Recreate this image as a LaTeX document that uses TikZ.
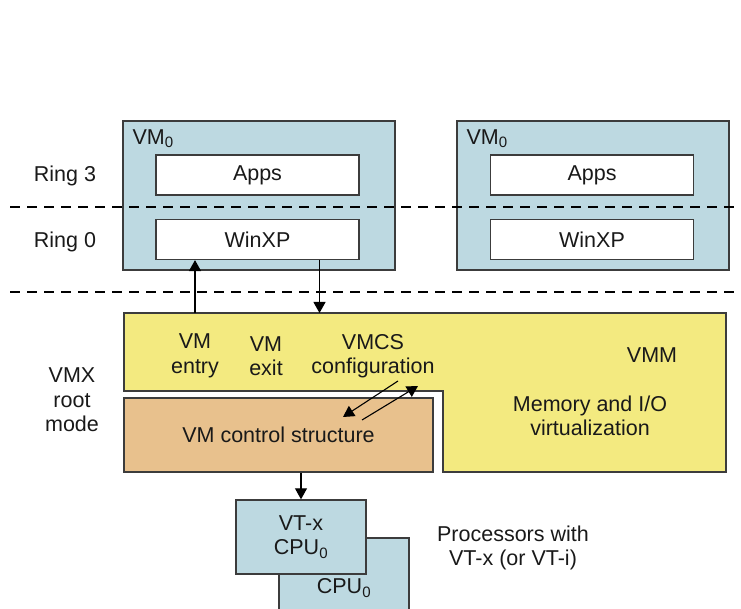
\documentclass[tikz,border=0pt]{standalone}
\usepackage{xcolor}
\usepackage{fontspec}
\setmainfont{Liberation Sans}
\usetikzlibrary{shapes,arrows.meta,positioning,calc}
\definecolor{vmblue}{RGB}{189,217,225}
\definecolor{vmmyellow}{RGB}{243,234,128}
\definecolor{ctltan}{RGB}{232,193,141}
\definecolor{boxline}{RGB}{60,60,60}
\definecolor{inktext}{RGB}{25,25,25}
\tikzstyle{vmbox} = [rectangle, minimum width=272, minimum height=149, draw=boxline, line width=1.4pt, fill=vmblue]
\tikzstyle{layer} = [rectangle, minimum width=203, minimum height=40, text centered, draw=boxline, line width=1.4pt, fill=white]
\tikzstyle{ctlbox} = [rectangle, minimum width=309, minimum height=74, text centered, draw=boxline, line width=1.4pt, fill=ctltan]
\tikzstyle{cpubox} = [rectangle, minimum width=130, minimum height=74, text centered, draw=boxline, line width=1.4pt, fill=vmblue]
\tikzstyle{vmmshape} = [draw=boxline, line width=1.4pt, fill=vmmyellow]
\tikzstyle{txt} = [align=center, inner sep=0pt]
\tikzstyle{ringline} = [line width=2.2pt, dash pattern=on 10pt off 7pt]
\tikzstyle{arrow} = [->, >={Triangle[length=11pt,width=12pt]}, line width=1.1pt]

\begin{document}
\begin{tikzpicture}[x=1pt, y=-1pt, font=\fontsize{21.5}{24.5}\selectfont, text=inktext]
	\useasboundingbox (0,0) rectangle (741,609);
	% guest side
	\node (vm1) [vmbox] at (259,195.5) {};
	\node (vm1name) [anchor=base west, inner sep=0pt] at ($(vm1.north west)+(10,24)$) {VM\textsubscript{0}};
	\node (apps1) [layer] at (257.5,175) {Apps};
	\node (winxp1) [layer, below=23pt of apps1] {WinXP};
	\node (vm2) [vmbox] at (593,195.5) {};
	\node (vm2name) [anchor=base west, inner sep=0pt] at ($(vm2.north west)+(10,24)$) {VM\textsubscript{0}};
	\node (apps2) [layer] at (592,175) {Apps};
	\node (winxp2) [layer, below=23pt of apps2] {WinXP};
	\node (ring3) [txt] at (65,176) {Ring 3};
	\node (ring0) [txt] at (65,242) {Ring 0};
	\node (vmx) [txt] at (72,400) {VMX\\root\\mode};
	\coordinate (r3l) at (10,207);
	\coordinate (r3r) at (741,207);
	\coordinate (r0l) at (10,292);
	\coordinate (r0r) at (741,292);
	\draw [ringline] (r3l) -- (r3r);
	\draw [ringline] (r0l) -- (r0r);

	% root mode
	\draw [vmmshape] (124,313) -- (726,313) -- (726,472) -- (443,472) -- (443,391) -- (124,391) -- cycle;
	\coordinate (vmmtop) at (124,313);
	\node (entry) [txt] at (195,356) {VM\\entry};
	\node (exit) [txt] at (266,356) {VM\\exit};
	\node (vmcs) [txt] at (373,356) {VMCS\\configuration};
	\node (vmm) [txt] at (652,355) {VMM};
	\node (memio) [txt] at (590,416) {Memory and I/O\\virtualization};
	\node (ctl) [ctlbox] at (278.5,435) {VM control structure};

	% hardware
	\node (cpuback) [cpubox, minimum height=100] at (344,588) {CPU\textsubscript{0}};
	\node (cpu) [cpubox, align=center] at (301,537) {VT-x\\CPU\textsubscript{0}};
	\node (proc) [txt] at (513,548) {Processors with\\VT-x (or VT-i)};

	\draw [arrow] (entry.north |- vmmtop) -- (entry.north |- winxp1.south);
	\draw [arrow] ([xshift=62pt]winxp1.south) -- ([xshift=62pt]winxp1.south |- vmmtop);
	\draw [arrow] ($(vmcs.center)+(25,25)$) -- ($(ctl.center)+(64.5,-18)$);
	\draw [arrow] ($(ctl.center)+(83.5,-15)$) -- ($(vmcs.center)+(45,30)$);
	\draw [arrow] (cpu.north |- ctl.south) -- (cpu.north);
\end{tikzpicture}
\end{document}
